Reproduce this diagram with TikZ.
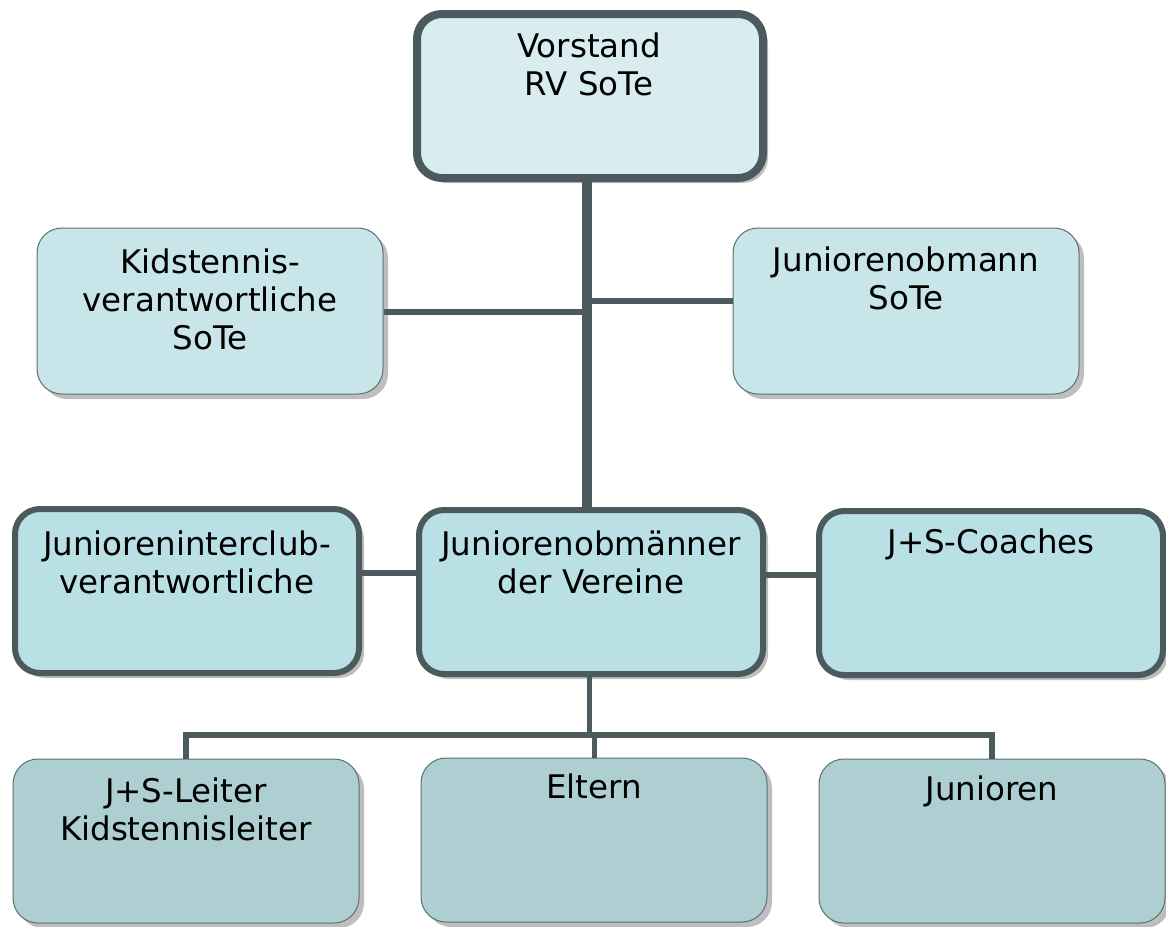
\documentclass[tikz,border=0pt]{standalone}
\usepackage{fontspec}
\setmainfont{DejaVu Sans}
\usetikzlibrary{shadows}
\definecolor{bordc}{HTML}{4B5A5C}
\definecolor{thinc}{HTML}{5F6E70}
\definecolor{shadc}{HTML}{BEBEBE}
\definecolor{filltop}{HTML}{D9EDF0}
\definecolor{fillsec}{HTML}{C8E6E9}
\definecolor{fillmid}{HTML}{B9E0E4}
\definecolor{filllow}{HTML}{ADCFD2}
\begin{document}
\begin{tikzpicture}[x=1pt,y=-1pt,
  box/.style={rounded corners=25pt, minimum width=346pt, minimum height=164pt, inner sep=0pt,
    general shadow={fill=shadc, shadow xshift=5pt, shadow yshift=-5pt}},
  topbox/.style={box, draw=bordc, fill=filltop, line width=8pt},
  secbox/.style={box, draw=thinc, fill=fillsec, line width=1pt, minimum height=166pt},
  thickbox/.style={box, draw=bordc, fill=fillmid, line width=6pt, minimum width=344pt},
  lowbox/.style={box, draw=thinc, fill=filllow, line width=1pt},
  conn/.style={draw=bordc, line width=5.5pt},
  lbl/.style={align=center, inner sep=0pt, anchor=base, font=\fontsize{32.5}{38}\selectfont}
]
\useasboundingbox (0,0) rectangle (1166,926);
% boxes
\node[topbox] (vorstand) at (590,96) {};
\node[secbox] (kids) at (210,311) {};
\node[secbox] (jobmann) at (906,311) {};
\node[thickbox] (interclub) at (187,591) {};
\node[thickbox] (jom) at (591,592) {};
\node[thickbox] (coaches) at (991,593) {};
\node[lowbox] (leiter) at (186,841) {};
\node[lowbox] (eltern) at (594,840) {};
\node[lowbox] (junioren) at (992,841) {};
% connectors
\coordinate (trunk) at (587,300);
\draw[conn, line width=10pt] (vorstand.south -| trunk) -- (jom.north -| trunk);
\coordinate (kj) at (582,312);
\draw[conn] (kids.east |- kj) -- (kj);
\coordinate (jj) at (592,301);
\draw[conn] (jj) -- (jj -| jobmann.west);
\coordinate (mj) at (380,573);
\draw[conn] (interclub.east |- mj) -- (jom.west |- mj);
\coordinate (mj2) at (790,575);
\draw[conn] (jom.east |- mj2) -- (coaches.west |- mj2);
\coordinate (dropc) at (589.5,735);
\draw[conn] (jom.south -| dropc) -- (dropc);
\coordinate (busl) at (186,735);
\coordinate (busr) at (992,735);
\draw[conn, line join=miter] (leiter.north -| busl) -- (busl) -- (busr) -- (junioren.north -| busr);
\coordinate (be) at (594.5,735);
\draw[conn] (be) -- (eltern.north -| be);
% labels (anchor base = baseline of the last line)
\node[lbl] (t1) at (589,95) {Vorstand\\RV SoTe};
\node[lbl] (t2) at (210,349) {Kidstennis-\\verantwortliche\\SoTe};
\node[lbl] (t3) at (906,309) {Juniorenobmann\\SoTe};
\node[lbl] (t4) at (187,593) {Junioreninterclub-\\verantwortliche};
\node[lbl] (t5) at (591,593) {Juniorenobmänner\\der Vereine};
\node[lbl] (t6) at (991,553) {J+S-Coaches};
\node[lbl] (t7) at (186,840) {J+S-Leiter\\Kidstennisleiter};
\node[lbl] (t8) at (594,798) {Eltern};
\node[lbl] (t9) at (992,800) {Junioren};
\end{tikzpicture}
\end{document}
